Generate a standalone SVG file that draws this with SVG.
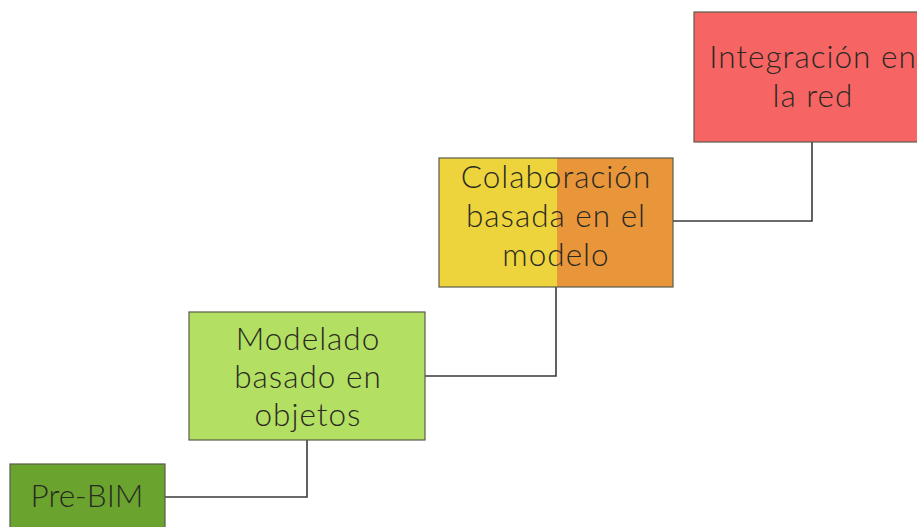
<svg xmlns="http://www.w3.org/2000/svg" width="917" height="527" viewBox="0 0 917 527">
  <defs>
    <style>
      .box { stroke: #5a5a4a; stroke-width: 1.2; }
      .lbl { font-family: Lato, "Open Sans", "Liberation Sans", sans-serif; font-weight: 300; font-size: 31.5px; letter-spacing: 1px; fill: #2a2a22; text-anchor: middle; }
      .tight { letter-spacing: 0; }
      .wire { fill: none; stroke: #3a3a3a; stroke-width: 1.6; }
    </style>
  </defs>
  <rect width="917" height="527" fill="#ffffff"/>

  <!-- step connectors -->
  <g id="connectors">
    <polyline class="wire" points="165,497 307,497 307,440"/>
    <polyline class="wire" points="425,376 556,376 556,287"/>
    <polyline class="wire" points="673,221 812,221 812,142"/>
  </g>

  <g id="pre-bim">
    <rect class="box" x="10" y="464" width="155" height="70" fill="#6aa42f"/>
    <text class="lbl tight" x="87" y="507">Pre-BIM</text>
  </g>

  <g id="modelado">
    <rect class="box" x="189" y="312" width="236" height="128" fill="#b3df62"/>
    <text class="lbl" x="308" y="350">Modelado</text>
    <text class="lbl" x="308" y="388">basado en</text>
    <text class="lbl" x="308" y="426">objetos</text>
  </g>

  <g id="colaboracion">
    <rect x="439" y="158" width="118" height="129" fill="#edd43c"/>
    <rect x="557" y="158" width="116" height="129" fill="#e9963b"/>
    <rect class="box" x="439" y="158" width="234" height="129" fill="none"/>
    <text class="lbl" x="556" y="188">Colaboración</text>
    <text class="lbl" x="556" y="227">basada en el</text>
    <text class="lbl" x="556" y="266">modelo</text>
  </g>

  <g id="integracion">
    <rect class="box" x="694" y="12" width="236" height="130" fill="#f76464"/>
    <text class="lbl" x="813" y="68">Integración en</text>
    <text class="lbl" x="813" y="107">la red</text>
  </g>
</svg>
